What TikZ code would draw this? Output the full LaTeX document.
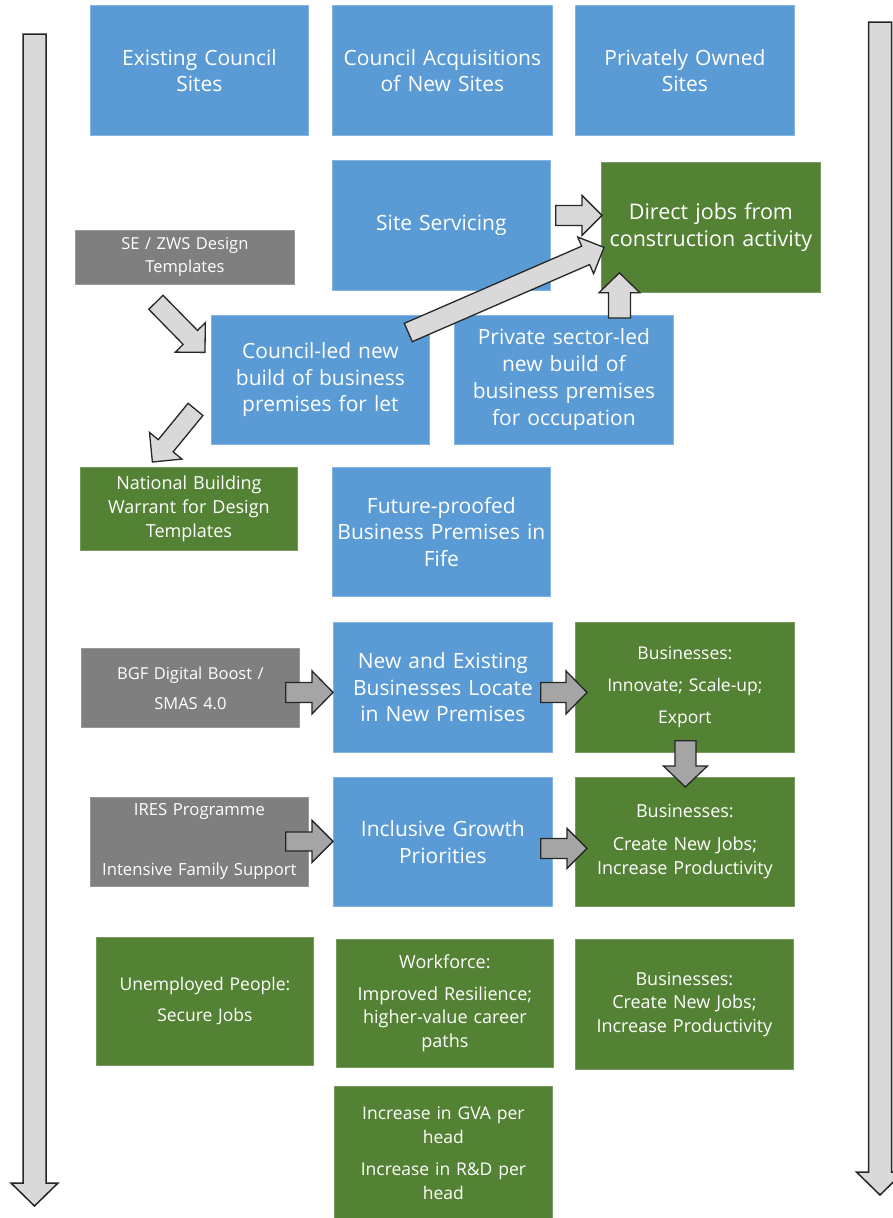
\documentclass[tikz,border=0pt]{standalone}
\usepackage{fontspec}
\setmainfont{Open Sans}
\usetikzlibrary{calc}
\definecolor{bblue}{HTML}{5B9BD5}
\definecolor{bgreen}{HTML}{548235}
\definecolor{bgray}{HTML}{7F7F7F}
\definecolor{lgray}{HTML}{D9D9D9}
\definecolor{mgray}{HTML}{A5A5A5}
\tikzset{
  box/.style={anchor=north west, inner sep=0pt, text=white, align=center, text width=216pt,
    line width=0.8pt, font=\fontsize{21}{26.5}\selectfont},
  bluebox/.style={box, fill=bblue, draw=bblue!75!white},
  greenbox/.style={box, fill=bgreen, draw=bgreen!80!white},
  graybox/.style={box, fill=bgray, draw=bgray!80!white},
  lightarrow/.style={fill=lgray, draw=black!85, line width=1.3pt, line join=miter},
  darkarrow/.style={fill=mgray, draw=black!85, line width=1.3pt, line join=miter},
  longarrow/.style={fill=lgray, draw=black!85, line width=1.5pt, line join=miter},
}
% #1 style, #2 tail coordinate, #3 tip coordinate, #4 shaft half width, #5 head half width, #6 head length
\newcommand\blockarrow[6]{%
  \coordinate (hb) at ($(#3)!#6pt!(#2)$);
  \draw[#1] ($(#2)!#4pt!90:(#3)$) -- ($(hb)!#4pt!90:(#3)$) -- ($(hb)!#5pt!90:(#3)$) -- (#3)
    -- ($(hb)!#5pt!-90:(#3)$) -- ($(hb)!#4pt!-90:(#3)$) -- ($(#2)!#4pt!-90:(#3)$) -- cycle;
}
\begin{document}
\begin{tikzpicture}[x=1pt,y=-1pt]
\useasboundingbox (0,0) rectangle (893,1218);
\fill[white] (0,0) rectangle (893,1218);

% long side arrows
\coordinate (la1) at (34.5,34);
\coordinate (la2) at (34.5,1206);
\coordinate (ra1) at (880,22);
\coordinate (ra2) at (880,1195);
\blockarrow{longarrow}{la1}{la2}{11.5}{23.5}{23}
\blockarrow{longarrow}{ra1}{ra2}{11.5}{23.5}{23}

% row 1
\node[bluebox, minimum width=218pt, minimum height=130pt] (ecs) at (90,5) {Existing Council\\Sites};
\node[bluebox, minimum width=220pt, minimum height=130pt] (cans) at (332,5) {Council Acquisitions\\of New Sites};
\node[bluebox, minimum width=219pt, minimum height=130pt] (pos) at (575,5) {Privately Owned\\Sites};

% row 2
\node[bluebox, minimum width=218pt, minimum height=130pt] (ss) at (332,160) {Site Servicing};
\node[greenbox, minimum width=219pt, minimum height=130pt, font=\fontsize{21.5}{26.5}\selectfont] (dj) at (601,162) {Direct jobs from\\construction activity};
\node[graybox, minimum width=219pt, minimum height=54pt, font=\fontsize{16.5}{23}\selectfont] (se) at (75,230) {SE / ZWS Design\\Templates};

% row 3
\node[bluebox, minimum width=218pt, minimum height=129pt] (cl) at (211,315) {Council-led new\\build of business\\premises for let};
\node[bluebox, minimum width=219pt, minimum height=129pt, font=\fontsize{21}{27}\selectfont] (pv) at (454,315) {Private sector-led\\new build of\\business premises\\for occupation};

% row 4
\node[greenbox, minimum width=217pt, minimum height=83pt, font=\fontsize{18}{24}\selectfont] (nb) at (80,467) {National Building\\Warrant for Design\\Templates};
\node[bluebox, minimum width=218pt, minimum height=129pt] (fp) at (332,467) {Future-proofed\\Business Premises in\\Fife};

% row 5
\node[graybox, minimum width=218pt, minimum height=79pt, font=\fontsize{16.5}{30}\selectfont] (bgf) at (81,648) {BGF Digital Boost /\\SMAS 4.0};
\node[bluebox, minimum width=219pt, minimum height=130pt] (ne) at (333,622) {New and Existing\\Businesses Locate\\in New Premises};
\node[greenbox, minimum width=219pt, minimum height=130pt, font=\fontsize{17.5}{32}\selectfont] (bi) at (575,622) {Businesses:\\Innovate; Scale-up;\\Export};

% row 6
\node[graybox, minimum width=218pt, minimum height=89pt, font=\fontsize{16.7}{30}\selectfont] (ir) at (90,797) {IRES Programme\\[30pt]Intensive Family Support};
\node[bluebox, minimum width=219pt, minimum height=129pt] (ig) at (333,777) {Inclusive Growth\\Priorities};
\node[greenbox, minimum width=219pt, minimum height=129pt, font=\fontsize{18}{24}\selectfont] (bc) at (575,777) {Businesses:\\[9pt]Create New Jobs;\\Increase Productivity};

% row 7
\node[greenbox, minimum width=217pt, minimum height=128pt, font=\fontsize{17.5}{24}\selectfont] (up) at (96,937) {Unemployed People:\\[7pt]Secure Jobs};
\node[greenbox, minimum width=217pt, minimum height=128pt, font=\fontsize{18}{23.5}\selectfont] (wf) at (336,939) {Workforce:\\[8pt]Improved Resilience;\\higher-value career\\paths};
\node[greenbox, minimum width=218pt, minimum height=130pt, font=\fontsize{18}{23.5}\selectfont] (b3) at (575,939) {Businesses:\\Create New Jobs;\\Increase Productivity};

% row 8
\node[greenbox, minimum width=218pt, minimum height=134pt, font=\fontsize{17.5}{24}\selectfont] (gva) at (334,1086) {Increase in GVA per\\head\\[8pt]Increase in R\&D per\\head};

% connectors (block arrows)
\coordinate (a1s) at ($(ss.east)+(5,-10)$);
\coordinate (a1e) at ($(dj.west)+(1,-12)$);
\blockarrow{lightarrow}{a1s}{a1e}{10}{20}{20}

\coordinate (a2s) at ($(cl.north east)+(-21.5,17.5)$);
\coordinate (a2e) at ($(dj.west)+(3,20)$);
\blockarrow{lightarrow}{a2s}{a2e}{10}{20}{20}

\coordinate (a3s) at ($(pv.north)+(55.5,3)$);
\coordinate (a3e) at ($(dj.south)+(-91.5,-20)$);
\blockarrow{lightarrow}{a3s}{a3e}{11}{20.5}{20}

\coordinate (a4s) at ($(se.south)+(-29,17.5)$);
\coordinate (a4e) at ($(cl.west)+(-6,-27.5)$);
\blockarrow{lightarrow}{a4s}{a4e}{10}{21}{21}

\coordinate (a5s) at ($(cl.west)+(-15.5,29.5)$);
\coordinate (a5e) at ($(nb.north)+(-36.5,-5)$);
\blockarrow{lightarrow}{a5s}{a5e}{9.6}{21}{21}

\coordinate (a6s) at ($(bgf.east)+(-14,4.5)$);
\coordinate (a6e) at ($(ne.west)+(0,5)$);
\blockarrow{darkarrow}{a6s}{a6e}{10}{21.5}{21}

\coordinate (a7s) at ($(ne.east)+(-12,5)$);
\coordinate (a7e) at ($(bi.west)+(12,5)$);
\blockarrow{darkarrow}{a7s}{a7e}{10}{21.5}{21}

\coordinate (a8s) at ($(bi.south)+(0.5,-12)$);
\coordinate (a8e) at ($(bc.north)+(0.5,10)$);
\blockarrow{darkarrow}{a8s}{a8e}{10.5}{22}{21}

\coordinate (a9s) at ($(ir.east)+(-23,-0.5)$);
\coordinate (a9e) at ($(ig.west)+(0,-0.5)$);
\blockarrow{darkarrow}{a9s}{a9e}{9.5}{21}{21}

\coordinate (a10s) at ($(ig.east)+(-12,6.5)$);
\coordinate (a10e) at ($(bc.west)+(12,6.5)$);
\blockarrow{darkarrow}{a10s}{a10e}{10}{20}{20}
\end{tikzpicture}
\end{document}
